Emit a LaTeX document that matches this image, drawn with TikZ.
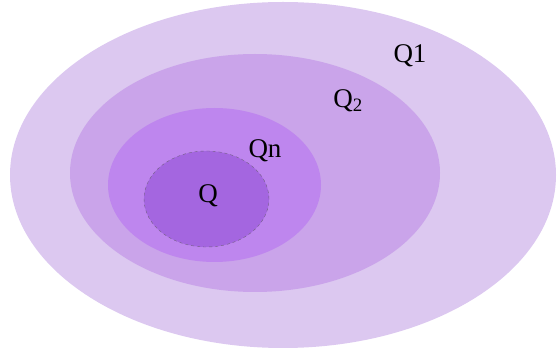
\documentclass[tikz,border=0pt]{standalone}
\usepackage{xcolor}
\usepackage{fontspec}
\setmainfont{Liberation Serif}
\usetikzlibrary{positioning,shapes.geometric}

\definecolor{setone}{RGB}{220,200,240}
\definecolor{settwo}{RGB}{202,164,234}
\definecolor{setn}{RGB}{190,134,238}
\definecolor{setq}{RGB}{164,102,224}
\definecolor{rim}{RGB}{115,95,130}

\begin{document}
\begin{tikzpicture}[
  x=1pt, y=-1pt,
  region/.style={ellipse, inner sep=0pt, outer sep=0pt},
  lbl/.style={font=\fontsize{27}{31}\selectfont, inner sep=0pt}
]
\useasboundingbox (0,0) rectangle (557,355);
\clip (0,0) rectangle (557,355);

% nested sets
\node[region, fill=setone, minimum width=546pt, minimum height=346pt] (q1) at (283,175) {};
\node[region, fill=settwo, minimum width=370pt, minimum height=238pt] (q2) at (255,173) {};
\node[region, fill=setn, minimum width=213pt, minimum height=154pt] (qn) at (214.5,185) {};
\node[region, fill=setq, draw=rim, dashed, thin, minimum width=125pt, minimum height=96pt] (q) at (206.5,199) {};

% labels
\node[lbl] (lone) at (410,56) {Q1};
\node[lbl] (ltwo) at (348,101) {Q\textsubscript{2}};
\node[lbl] (ln) at (265,151) {Qn};
\node[lbl] (lq) at (208,196) {Q};
\end{tikzpicture}
\end{document}
